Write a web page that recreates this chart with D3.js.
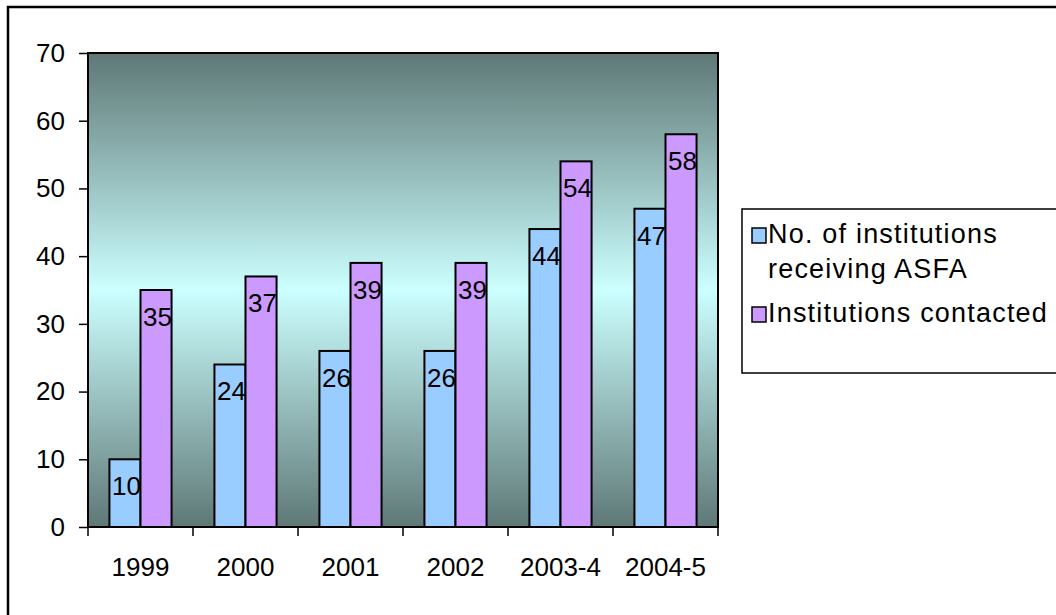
<!DOCTYPE html>
<head>
  <title>Institutions receiving ASFA</title>
  <script src="https://d3js.org/d3.v7.min.js"></script>
  <style>
    body { margin: 0; background: #fff; }
    text { font-family: Arial, "Liberation Sans", sans-serif; fill: #000; }
    .axis path, .axis line { stroke: #000; stroke-width: 1.5px; }
    .axis text { font-size: 26px; }
  </style>
</head>
<body>
  <svg width="1056" height="615"></svg>
  <script>
    // data
    const years     = ["1999", "2000", "2001", "2002", "2003-4", "2004-5"];
    const received  = [10, 24, 26, 26, 44, 47];
    const contacted = [35, 37, 39, 39, 54, 58];
    const yTicks    = [0, 10, 20, 30, 40, 50, 60, 70];
    const seriesNames  = ["No. of institutions|receiving ASFA", "Institutions contacted"];
    const seriesColors = ["#99ccff", "#cc99ff"];

    const svg    = d3.select("svg"),
    margin = {top: 53, left: 88},
    width  = 630,
    height = 474,
    x  = d3.scaleBand().domain(years).range([0, width]),
    xs = d3.scaleBand().domain([0, 1]).range([0, x.bandwidth()]).paddingOuter(0.69).paddingInner(0),
    y  = d3.scaleLinear().domain([0, 70]).range([height, 0]);

    // outer chart border (runs off the picture right and bottom)
    svg.append("rect")
    .attr("x", 8).attr("y", 7).attr("width", 1080).attr("height", 640)
    .attr("fill", "none").attr("stroke", "#000").attr("stroke-width", 2.5);

    const defs = svg.append("defs");
    const grad = defs.append("linearGradient").attr("id", "bg")
    .attr("x1", 0).attr("y1", 0).attr("x2", 0).attr("y2", 1);
    grad.append("stop").attr("offset", "0%").attr("stop-color", "#5e7876");
    grad.append("stop").attr("offset", "50%").attr("stop-color", "#ccffff");
    grad.append("stop").attr("offset", "100%").attr("stop-color", "#5e7876");

    const g = svg.append("g").attr("transform", `translate(${margin.left},${margin.top})`);

    g.append("rect")
    .attr("width", width).attr("height", height)
    .attr("fill", "url(#bg)").attr("stroke", "#000").attr("stroke-width", 2);

    g.append("g")
    .attr("class", "axis")
    .attr("transform", `translate(0,${height})`)
    .call(d3.axisBottom(x).tickSize(0).tickPadding(31))
    .call(a => a.select(".domain").remove());

    // x tick marks sit on the category boundaries
    g.append("g").selectAll("line")
    .data(years.concat([null]))
    .enter().append("line")
    .attr("x1", (d, i) => i * x.step()).attr("x2", (d, i) => i * x.step())
    .attr("y1", height).attr("y2", height + 9)
    .attr("stroke", "#000").attr("stroke-width", 1.5);

    g.append("g")
    .attr("class", "axis")
    .call(d3.axisLeft(y).tickValues(yTicks).tickSize(9).tickPadding(14).tickSizeOuter(0))
    .call(a => a.select(".domain").remove());

    const series = [received, contacted];
    series.forEach((vals, s) => {
      const grp = g.append("g");
      grp.selectAll("rect")
      .data(vals)
      .enter().append("rect")
      .attr("x", (d, i) => x(years[i]) + xs(s))
      .attr("y", d => y(d))
      .attr("width", xs.bandwidth())
      .attr("height", d => height - y(d))
      .attr("fill", seriesColors[s])
      .attr("stroke", "#000").attr("stroke-width", 2);
      grp.selectAll("text")
      .data(vals)
      .enter().append("text")
      .attr("x", (d, i) => x(years[i]) + xs(s) + xs.bandwidth() / 2 + 1.5)
      .attr("y", d => y(d) + 36)
      .attr("text-anchor", "middle")
      .style("font-size", "26px")
      .text(d => d);
    });

    // legend
    const lg = svg.append("g").attr("transform", "translate(742,209)");
    lg.append("rect").attr("width", 330).attr("height", 164)
    .attr("fill", "#fff").attr("stroke", "#000").attr("stroke-width", 1.5);
    const rowY = [19, 98];
    seriesNames.forEach((name, i) => {
      lg.append("rect")
      .attr("x", 10).attr("y", rowY[i]).attr("width", 14).attr("height", 15)
      .attr("fill", seriesColors[i]).attr("stroke", "#000").attr("stroke-width", 1.5);
      name.split("|").forEach((line, j) => {
        lg.append("text")
        .attr("x", 26).attr("y", rowY[i] + 15 + j * 35)
        .style("font-size", "27px")
        .style("letter-spacing", "1.2px")
        .text(line);
      });
    });
  </script>
</body>
